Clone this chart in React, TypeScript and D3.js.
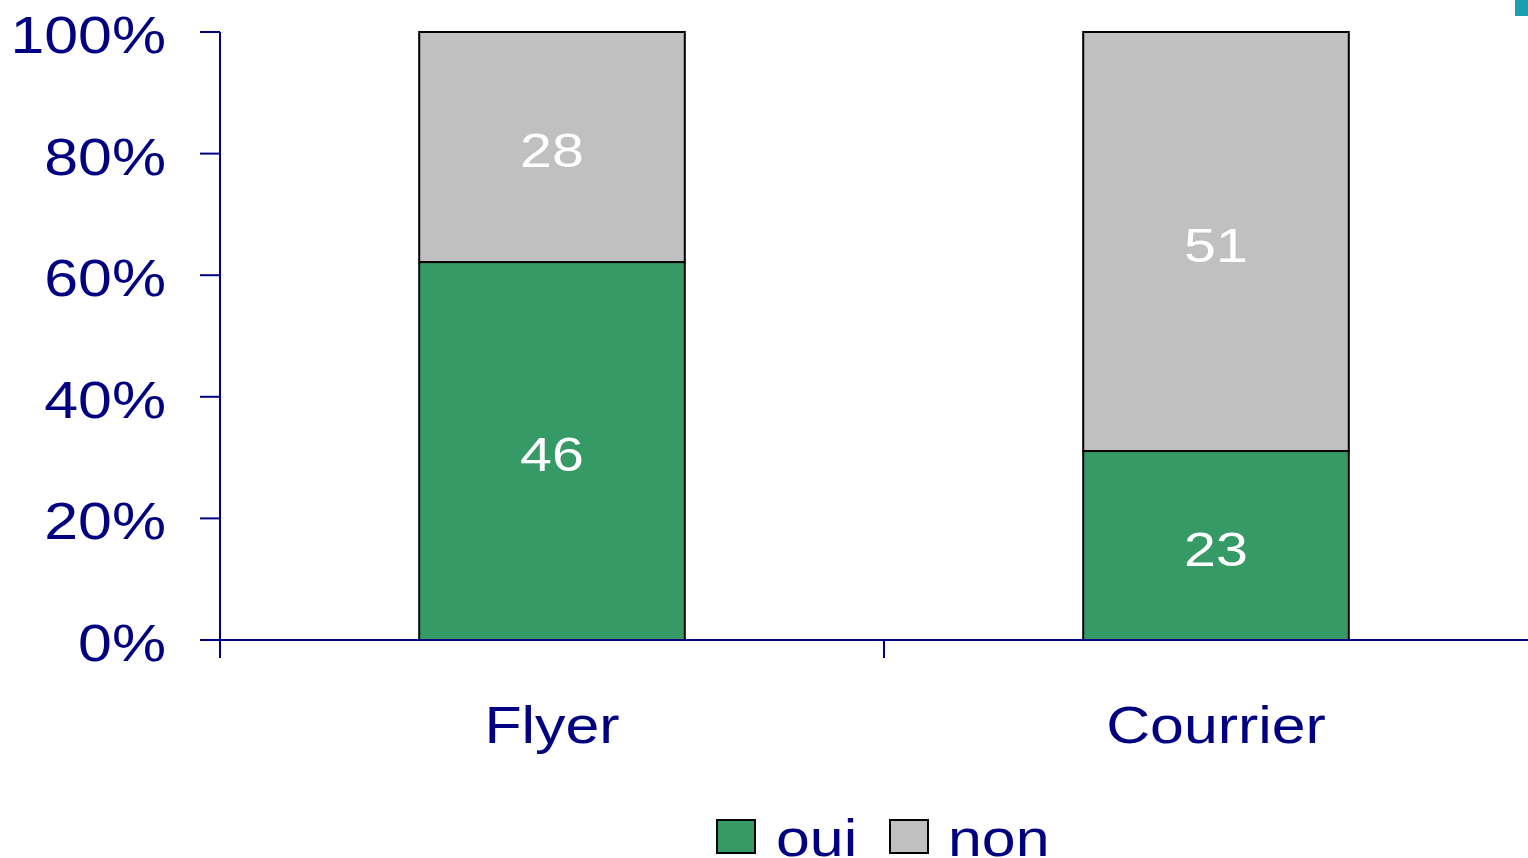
import React from "react";
import * as d3 from "d3";

// categories and counts per answer
const categories = ["Flyer", "Courrier"];
const oui = [46, 23];
const non = [28, 51];
const seriesNames = ["oui", "non"];
const yTicks = [0, 0.2, 0.4, 0.6, 0.8, 1];

const W = 1528;
const H = 858;
const navy = "#000080";
const colors = { oui: "#359a66", non: "#c0c0c0" };
const sx = 1.17; // the original font is drawn wider than Arial

const App = () => {
  const y = d3.scaleLinear().domain([0, 1]).range([640, 32]);
  const x = d3.scaleBand().domain(categories).range([220, 1548]).padding(0);
  const barW = x.bandwidth() * 0.4;

  const rows = categories.map((c, i) => ({ cat: c, oui: oui[i], non: non[i] }));
  const stack = d3
    .stack<any>()
    .keys(seriesNames)
    .offset(d3.stackOffsetExpand)(rows);

  const fmt = d3.format(".0%");

  const label = (tx: number, ty: number, txt: string, size: number, fill: string, anchor = "middle") => (
    <text
      transform={`translate(${tx},${ty}) scale(${sx},1)`}
      textAnchor={anchor}
      fontSize={size}
      fill={fill}
      dominantBaseline="central"
    >
      {txt}
    </text>
  );

  return (
    <svg
      width={W}
      height={H}
      style={{ position: "fixed", left: 0, top: 0, fontFamily: "'Liberation Sans', Arial, sans-serif", background: "#fff" }}
    >
      {/* bars */}
      {stack.map((s) =>
        s.map((d, i) => (
          <rect
            key={s.key + i}
            x={x(categories[i])! + x.bandwidth() / 2 - barW / 2}
            y={y(d[1])}
            width={barW}
            height={y(d[0]) - y(d[1])}
            fill={colors[s.key as "oui" | "non"]}
            stroke="#000"
            strokeWidth={2}
          />
        ))
      )}
      {/* value labels */}
      {stack.map((s) =>
        s.map((d, i) => (
          <g key={"l" + s.key + i}>
            {label(
              x(categories[i])! + x.bandwidth() / 2,
              (y(d[0]) + y(d[1])) / 2 + 3,
              String((d.data as any)[s.key]),
              49,
              "#fff"
            )}
          </g>
        ))
      )}
      {/* y axis */}
      <line x1={220} x2={220} y1={y(1)} y2={658} stroke={navy} strokeWidth={2} />
      {yTicks.map((t) => (
        <g key={t}>
          <line x1={200} x2={220} y1={y(t)} y2={y(t)} stroke={navy} strokeWidth={2} />
          {label(166, y(t) + 3, fmt(t), 52, navy, "end")}
        </g>
      ))}
      {/* x axis */}
      <line x1={200} x2={W} y1={y(0)} y2={y(0)} stroke={navy} strokeWidth={2} />
      {categories.map((c) => (
        <g key={c}>
          <line x1={x(c)!} x2={x(c)!} y1={y(0)} y2={658} stroke={navy} strokeWidth={2} />
          {label(x(c)! + x.bandwidth() / 2, 725, c, 52, navy)}
        </g>
      ))}
      {/* legend */}
      <rect x={717} y={820} width={38} height={33} fill={colors.oui} stroke="#000" strokeWidth={2} />
      {label(776, 838, "oui", 52, navy, "start")}
      <rect x={890} y={820} width={38} height={33} fill={colors.non} stroke="#000" strokeWidth={2} />
      {label(948, 838, "non", 52, navy, "start")}
      {/* small marker top right */}
      <rect x={1515} y={0} width={13} height={16} fill="#1a9fb0" />
    </svg>
  );
};

export default App;
